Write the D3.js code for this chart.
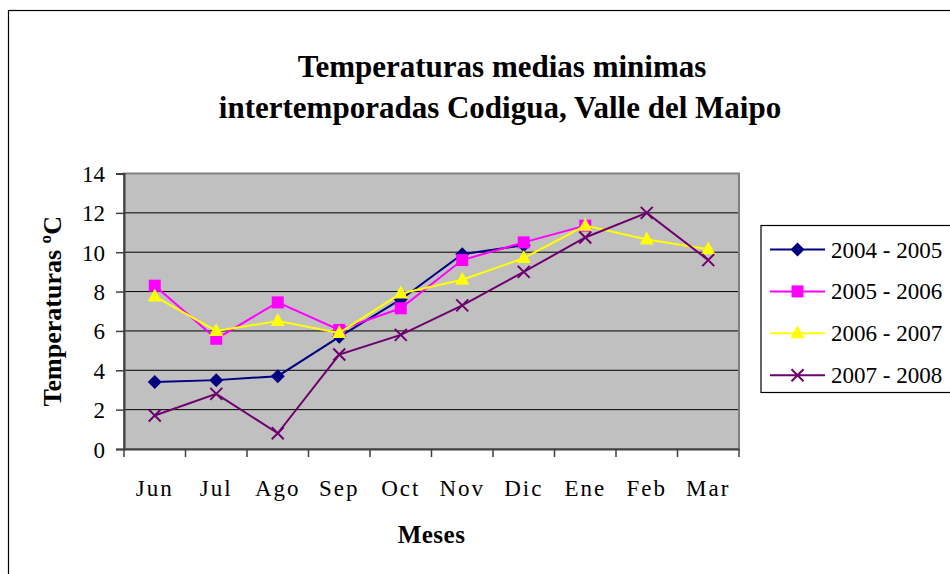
<!DOCTYPE html>
<html>
<head>
<meta charset="utf-8">
<script src="https://cdn.jsdelivr.net/npm/d3@7"></script>
<style>
  body { margin: 0; background: #fff; }
  text { font-family: "Liberation Serif", "Times New Roman", serif; fill: #000; }
</style>
</head>
<body>
<div class="chart"></div>
<script>
// Chart data

var months = ["Jun", "Jul", "Ago", "Sep", "Oct", "Nov", "Dic", "Ene", "Feb", "Mar"];

var s2004 = [3.4, 3.5, 3.7, 5.7, 7.6, 9.9, 10.35, null, null, null];
var s2005 = [8.3, 5.6, 7.45, 6.05, 7.15, 9.6, 10.5, 11.35, null, null];
var s2006 = [7.75, 6.0, 6.5, 5.9, 7.9, 8.6, 9.7, 11.35, 10.65, 10.15];
var s2007 = [1.7, 2.8, 0.8, 4.8, 5.8, 7.3, 9.0, 10.75, 12.0, 9.6];

var seriesNames = ["2004 - 2005", "2005 - 2006", "2006 - 2007", "2007 - 2008"];
var yTicks = [0, 2, 4, 6, 8, 10, 12, 14];

var series = [
  { name: seriesNames[0], values: s2004, color: "#000080", marker: "diamond" },
  { name: seriesNames[1], values: s2005, color: "#ff00ff", marker: "square" },
  { name: seriesNames[2], values: s2006, color: "#ffff00", marker: "triangle" },
  { name: seriesNames[3], values: s2007, color: "#6e006e", marker: "cross" }
];

// Set chart area

var svgWidth = 950;
var svgHeight = 574;

var margin = {
  top: 173.5,
  right: 211,
  bottom: 125,
  left: 124
};

var width = svgWidth - margin.left - margin.right;
var height = svgHeight - margin.top - margin.bottom;

var svg = d3
  .select(".chart")
  .append("svg")
  .attr("width", svgWidth)
  .attr("height", svgHeight);

// outer chart border (runs off the page on the right and bottom)
svg.append("rect")
  .attr("x", 8.5)
  .attr("y", 10.5)
  .attr("width", 1000)
  .attr("height", 1000)
  .attr("fill", "none")
  .attr("stroke", "#000")
  .attr("stroke-width", 1.2);

// title
var title = svg.append("text")
  .attr("text-anchor", "middle")
  .style("font-weight", "bold")
  .style("font-size", "31px");
title.append("tspan").attr("x", 502).attr("y", 77).text("Temperaturas medias minimas");
title.append("tspan").attr("x", 500).attr("y", 118).text("intertemporadas Codigua, Valle del Maipo");

var chartGroup = svg.append("g")
  .attr("transform", `translate(${margin.left}, ${margin.top})`);

// scales
var xScale = d3.scaleBand()
  .domain(months)
  .range([0, width]);

var yScale = d3.scaleLinear()
  .domain([0, 14])
  .range([height, 0]);

// plot background
chartGroup.append("rect")
  .attr("width", width)
  .attr("height", height)
  .attr("fill", "#c0c0c0");

// gridlines
chartGroup.append("g")
  .selectAll("line")
  .data(yTicks.slice(1))
  .enter()
  .append("line")
  .attr("x1", 0)
  .attr("x2", width)
  .attr("y1", d => yScale(d))
  .attr("y2", d => yScale(d))
  .attr("stroke", "#000")
  .attr("stroke-width", 1);

// plot border
chartGroup.append("rect")
  .attr("width", width)
  .attr("height", height)
  .attr("fill", "none")
  .attr("stroke", "#808080")
  .attr("stroke-width", 2);

// axes
var leftAxis = d3.axisLeft(yScale)
  .tickValues(yTicks)
  .tickSize(8)
  .tickPadding(11);

var yAxis = chartGroup.append("g").call(leftAxis);
yAxis.select(".domain").attr("stroke", "#404040").attr("stroke-width", 2);
yAxis.selectAll(".tick line").attr("stroke", "#404040").attr("stroke-width", 1.5);
yAxis.selectAll("text")
  .style("font-size", "23px")
  .style("font-family", "'Liberation Serif', serif")
  .attr("dy", "0.35em");

var bottomAxis = d3.axisBottom(xScale)
  .tickSize(0);

var xAxis = chartGroup.append("g")
  .attr("transform", `translate(0, ${height})`)
  .call(bottomAxis);
xAxis.select(".domain").attr("stroke", "#404040").attr("stroke-width", 2);
xAxis.selectAll("text")
  .attr("y", 47)
  .attr("dy", 0)
  .style("font-size", "23px")
  .style("letter-spacing", "2px")
  .style("font-family", "'Liberation Serif', serif");

// category boundary tick marks
chartGroup.append("g")
  .selectAll("line")
  .data(months.concat(["end"]))
  .enter()
  .append("line")
  .attr("x1", (d, i) => i * xScale.step())
  .attr("x2", (d, i) => i * xScale.step())
  .attr("y1", height)
  .attr("y2", height + 8)
  .attr("stroke", "#404040")
  .attr("stroke-width", 1.5);

// axis titles
svg.append("text")
  .attr("x", margin.left + width / 2)
  .attr("y", 543)
  .attr("text-anchor", "middle")
  .style("font-weight", "bold")
  .style("font-size", "25px")
  .style("letter-spacing", "0.5px")
  .text("Meses");

svg.append("text")
  .attr("transform", `translate(61, ${margin.top + height / 2}) rotate(-90)`)
  .attr("text-anchor", "middle")
  .style("font-weight", "bold")
  .style("font-size", "26px")
  .text("Temperaturas ºC");

// marker drawing
function drawMarker(g, type, color) {
  if (type === "diamond") {
    g.append("path").attr("d", "M0,-7L7,0L0,7L-7,0Z").attr("fill", color);
  } else if (type === "square") {
    g.append("rect").attr("x", -6).attr("y", -6).attr("width", 12).attr("height", 12).attr("fill", color);
  } else if (type === "triangle") {
    g.append("path").attr("d", "M0,-8L7,5L-7,5Z").attr("fill", color);
  } else {
    g.append("path").attr("d", "M-6,-6L6,6M-6,6L6,-6")
      .attr("stroke", color).attr("stroke-width", 2).attr("fill", "none");
  }
}

var line = d3.line()
  .defined(d => d.v !== null)
  .x(d => xScale(d.m) + xScale.bandwidth() / 2)
  .y(d => yScale(d.v));

series.forEach(function(s) {
  var pts = s.values.map((v, i) => ({ m: months[i], v: v }));

  chartGroup.append("path")
    .datum(pts)
    .attr("d", line)
    .attr("fill", "none")
    .attr("stroke", s.color)
    .attr("stroke-width", 2);

  pts.filter(d => d.v !== null).forEach(function(d) {
    var g = chartGroup.append("g")
      .attr("transform", `translate(${xScale(d.m) + xScale.bandwidth() / 2}, ${yScale(d.v)})`);
    drawMarker(g, s.marker, s.color);
  });
});

// legend
var legend = svg.append("g").attr("transform", "translate(761, 225.5)");

legend.append("rect")
  .attr("width", 300)
  .attr("height", 167)
  .attr("fill", "#fff")
  .attr("stroke", "#000")
  .attr("stroke-width", 1.2);

series.forEach(function(s, i) {
  var row = legend.append("g").attr("transform", `translate(0, ${24 + i * 41.9})`);
  row.append("line")
    .attr("x1", 9).attr("x2", 64)
    .attr("stroke", s.color)
    .attr("stroke-width", 2);
  var m = row.append("g").attr("transform", "translate(36.5, 0)");
  drawMarker(m, s.marker, s.color);
  row.append("text")
    .attr("x", 70)
    .attr("dy", "0.35em")
    .style("font-size", "23px")
    .text(s.name);
});
</script>
</body>
</html>
